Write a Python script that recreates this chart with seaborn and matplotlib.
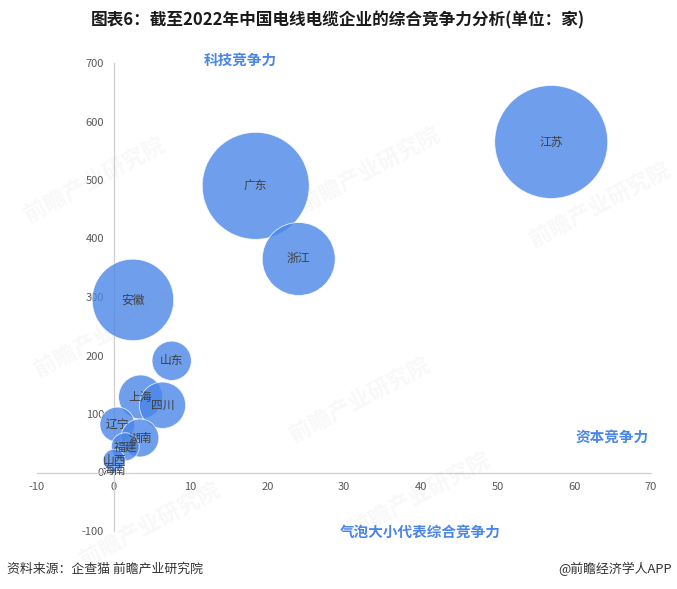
import numpy as np
import pandas as pd
import matplotlib
matplotlib.use("Agg")
import matplotlib.pyplot as plt
import seaborn as sns

# 各省份：资本竞争力(x)、科技竞争力(y)、综合竞争力(气泡大小)
provinces = ["江苏", "广东", "浙江", "安徽", "山东", "上海", "四川",
             "辽宁", "湖南", "福建", "山西", "海南"]
capital = [57.0, 18.5, 24.1, 2.5, 7.55, 3.5, 6.35, 0.46, 3.4, 1.5, 0.05, 0.0]
tech = [565, 490, 365, 295, 191, 129, 115, 82, 59, 44, 21, 4]
overall = [100, 89.6, 41.7, 52, 12.1, 15.2, 16.8, 9.5, 11.3, 6.1, 3.8, 0.3]

x_ticks = list(range(-10, 71, 10))
y_ticks = list(range(-100, 701, 100))

BLUE = "#4A86E8"
W, H = 677, 589

sns.set_style("white")
plt.rcParams["font.family"] = ["Noto Sans CJK SC", "DejaVu Sans"]
plt.rcParams["axes.unicode_minus"] = False

df = pd.DataFrame({"province": provinces, "capital": capital,
                   "tech": tech, "overall": overall})

fig = plt.figure(figsize=(W / 100, H / 100), dpi=100)
ax = fig.add_axes([37 / W, 1 - 531 / H, 614 / W, 468 / H])

# bubble area proportional to overall score
smax = (2 * 56.5 * 0.72) ** 2
sns.scatterplot(data=df, x="capital", y="tech", size="overall",
                sizes=(0, smax), size_norm=(0, 100), color=BLUE, alpha=0.8,
                edgecolor="white", linewidth=0.6, legend=False, ax=ax, zorder=3)

for _, row in df.iterrows():
    ax.text(row["capital"], row["tech"], row["province"], ha="center", va="center",
            fontsize=8.5, color="#404040", zorder=4)

ax.set_xlim(-10, 70)
ax.set_ylim(-100, 700)
ax.set_xticks(x_ticks)
ax.set_yticks(y_ticks)
ax.set_xlabel("")
ax.set_ylabel("")
for side in ["top", "right"]:
    ax.spines[side].set_visible(False)
for side in ["left", "bottom"]:
    ax.spines[side].set_position(("data", 0))
    ax.spines[side].set_color("#cfcfcf")
    ax.spines[side].set_linewidth(0.9)
    ax.spines[side].set_zorder(1)
ax.tick_params(axis="both", length=0, labelsize=8, labelcolor="#595959", pad=7)

# faint watermark
for wx, wy in [(95, 180), (370, 170), (600, 205), (105, 335), (360, 400), (150, 525), (420, 495)]:
    fig.text(wx / W, 1 - wy / H, "前瞻产业研究院", rotation=28, fontsize=16,
             color="#9a9a9a", alpha=0.07, ha="center", va="center",
             fontweight="bold", zorder=10)

fig.text(338 / W, 1 - 20 / H, "图表6：截至2022年中国电线电缆企业的综合竞争力分析(单位：家)",
         ha="center", va="center", fontsize=12, fontweight="bold", color="#1a1a1a")
fig.text(240 / W, 1 - 60 / H, "科技竞争力", ha="center", va="center",
         fontsize=10.5, fontweight="bold", color=BLUE)
fig.text(612 / W, 1 - 437 / H, "资本竞争力", ha="center", va="center",
         fontsize=10.5, fontweight="bold", color=BLUE)
fig.text(420 / W, 1 - 532 / H, "气泡大小代表综合竞争力", ha="center", va="center",
         fontsize=10.5, fontweight="bold", color=BLUE)
fig.text(7 / W, 1 - 569 / H, "资料来源：企查猫 前瞻产业研究院", ha="left", va="center",
         fontsize=9.3, color="#333333")
fig.text(672 / W, 1 - 569 / H, "@前瞻经济学人APP", ha="right", va="center",
         fontsize=9.3, color="#333333")

fig.savefig("out.png", dpi=100)
